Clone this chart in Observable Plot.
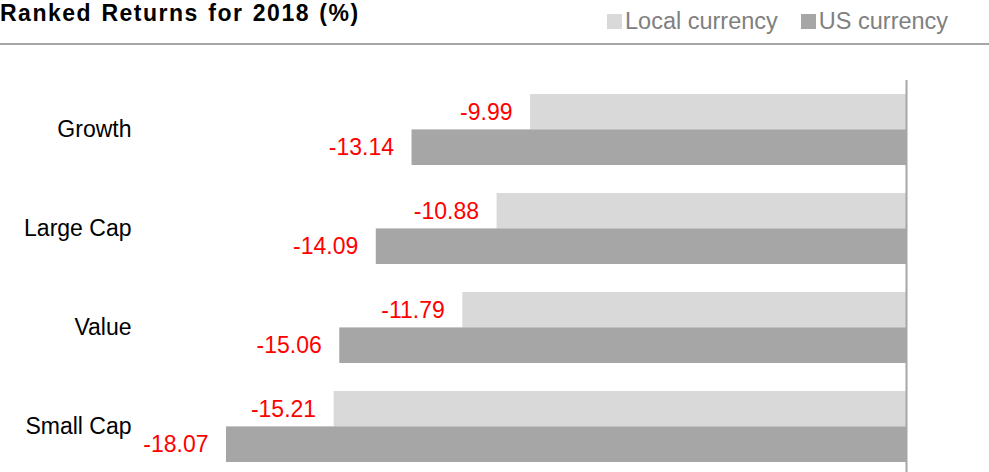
<!DOCTYPE html>
<html>
<head>
<meta charset="utf-8">
<script src="https://cdn.jsdelivr.net/npm/d3@7"></script>
<script src="https://cdn.jsdelivr.net/npm/@observablehq/plot@0.6"></script>
<style>
  html, body { margin: 0; padding: 0; background: #fff; }
  body { width: 989px; height: 472px; overflow: hidden; font-family: "Liberation Sans", Arial, sans-serif; }
  #header { position: relative; width: 989px; height: 43px; border-bottom: 2px solid #a6a6a6; }
  #title { position: absolute; left: 0; top: 0; font-size: 23px; line-height: 26px; font-weight: bold; color: #000; letter-spacing: 1.5px; word-spacing: 1.5px; white-space: nowrap; }
  #legend { position: absolute; left: 607px; top: 8px; font-size: 23.5px; line-height: 26px; color: #808080; display: flex; align-items: center; white-space: nowrap; }
  .item { display: flex; align-items: center; margin-left: 23px; }
  .item:first-child { margin-left: 0; }
  .sw { width: 15px; height: 15px; margin-right: 3px; }
  #chart svg { display: block; }
</style>
</head>
<body>
<div id="header">
  <div id="title"></div>
  <div id="legend"></div>
</div>
<div id="chart"></div>
<script>
const title = "Ranked Returns for 2018 (%)";
const categories = ["Growth", "Large Cap", "Value", "Small Cap"];
const seriesNames = ["Local currency", "US currency"];
const seriesColors = ["#d9d9d9", "#a6a6a6"];
const localCurrency = [-9.99, -10.88, -11.79, -15.21];
const usCurrency = [-13.14, -14.09, -15.06, -18.07];

document.getElementById("title").textContent = title;
const legend = document.getElementById("legend");
seriesNames.forEach((name, i) => {
  const item = document.createElement("div");
  item.className = "item";
  const sw = document.createElement("span");
  sw.className = "sw";
  sw.style.background = seriesColors[i];
  const label = document.createElement("span");
  label.textContent = name;
  item.appendChild(sw);
  item.appendChild(label);
  legend.appendChild(item);
});

const localRows = categories.map((c, i) => ({category: c, series: seriesNames[0], value: localCurrency[i]}));
const usRows = categories.map((c, i) => ({category: c, series: seriesNames[1], value: usCurrency[i]}));

const minVal = d3.min([...localCurrency, ...usCurrency]);
const half = 35.4;

const chart = Plot.plot({
  width: 989,
  height: 427,
  marginLeft: 226,
  marginRight: 83,
  marginTop: 48,
  marginBottom: 9,
  style: {fontFamily: "'Liberation Sans', Arial, sans-serif", fontSize: "23px", color: "#000", background: "#fff"},
  x: {domain: [minVal, 0], axis: null},
  y: {domain: categories, paddingInner: 0.287, paddingOuter: 0, align: 0.5, label: null, tickSize: 0, tickPadding: 95},
  marks: [
    Plot.barX(localRows, {y: "category", x1: 0, x2: "value", fill: seriesColors[0], insetBottom: half}),
    Plot.barX(usRows, {y: "category", x1: 0, x2: "value", fill: seriesColors[1], insetTop: half}),
    Plot.text(localRows, {y: "category", x: "value", text: d => d.value.toFixed(2), textAnchor: "end", dx: -18, dy: -half / 2, fill: "#ff0000", fontSize: 23}),
    Plot.text(usRows, {y: "category", x: "value", text: d => d.value.toFixed(2), textAnchor: "end", dx: -18, dy: half / 2, fill: "#ff0000", fontSize: 23}),
    Plot.ruleX([0], {stroke: "#a6a6a6", strokeWidth: 2, insetTop: -13, insetBottom: -9})
  ]
});
document.getElementById("chart").appendChild(chart);
</script>
</body>
</html>
